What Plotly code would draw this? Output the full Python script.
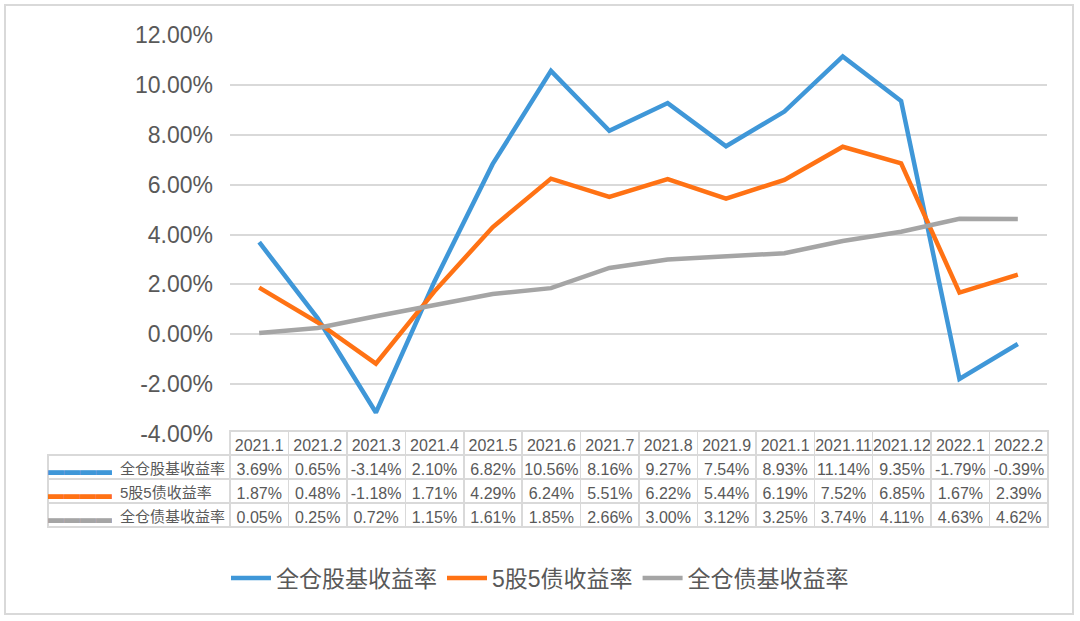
import plotly.graph_objects as go

months = ["2021.1", "2021.2", "2021.3", "2021.4", "2021.5", "2021.6", "2021.7",
          "2021.8", "2021.9", "2021.1", "2021.11", "2021.12", "2022.1", "2022.2"]
series_names = ["全仓股基收益率", "5股5债收益率", "全仓债基收益率"]
stock_fund = [3.69, 0.65, -3.14, 2.10, 6.82, 10.56, 8.16, 9.27, 7.54, 8.93, 11.14, 9.35, -1.79, -0.39]
mixed_55 = [1.87, 0.48, -1.18, 1.71, 4.29, 6.24, 5.51, 6.22, 5.44, 6.19, 7.52, 6.85, 1.67, 2.39]
bond_fund = [0.05, 0.25, 0.72, 1.15, 1.61, 1.85, 2.66, 3.00, 3.12, 3.25, 3.74, 4.11, 4.63, 4.62]
y_ticks = [-4, -2, 0, 2, 4, 6, 8, 10, 12]

colors = ["#3f97d8", "#ff7214", "#a5a5a5"]
all_series = [stock_fund, mixed_55, bond_fund]

W, H = 1080, 621
FONT = "Liberation Sans, Helvetica, Arial, Noto Sans CJK SC, sans-serif"
TXT = "#595959"
GRID = "#d9d9d9"
CLEAR = "rgba(0,0,0,0)"

x_idx = list(range(len(months)))

fig = go.Figure()
for name, vals, col in zip(series_names, all_series, colors):
    fig.add_trace(go.Scatter(
        x=x_idx, y=[v / 100 for v in vals], name=name, mode="lines",
        line=dict(color=col, width=4.5), xaxis="x", yaxis="y",
    ))

# main data table (bordered grid)
n = len(months)
cols = [["", "", ""]]
for i in range(n):
    cols.append([f"{s[i]:.2f}%" for s in all_series])

tab_top = 1 - 431 / H
tab_bot = 1 - 540 / H
fig.add_trace(go.Table(
    domain=dict(x=[48 / W, 1048 / W], y=[tab_bot, tab_top]),
    columnwidth=[182] + [58.4] * n,
    header=dict(values=[""] + months, height=24,
                fill_color=[CLEAR] + ["white"] * n,
                line=dict(color=[CLEAR] + [GRID] * n, width=1.5),
                font=dict(family=FONT, size=16, color=TXT), align="center"),
    cells=dict(values=cols, height=24, fill_color="white",
               line=dict(color=GRID, width=1.5),
               font=dict(family=FONT, size=16, color=TXT),
               align="center"),
))

# legend keys + series names inside the table's first column
fig.add_trace(go.Table(
    domain=dict(x=[48 / W, 230 / W], y=[tab_bot, tab_top]),
    columnwidth=[64, 118],
    header=dict(values=["", ""], height=24, fill_color=CLEAR,
                line=dict(color=CLEAR, width=0)),
    cells=dict(values=[["▬▬▬▬"] * 3, series_names], height=24, fill_color=CLEAR,
               line=dict(color=CLEAR, width=0),
               font=dict(family=FONT, size=[16, 15], color=[colors, [TXT] * 3]),
               align=["center", "left"]),
))

fig.update_layout(
    template="none",
    width=W, height=H,
    margin=dict(l=0, r=0, t=0, b=0, autoexpand=False),
    paper_bgcolor="white", plot_bgcolor="white",
    font=dict(family=FONT, color=TXT),
    showlegend=True,
    legend=dict(orientation="h", x=0.5, xanchor="center", y=1 - 578 / H, yanchor="middle",
                font=dict(size=23, color=TXT), itemwidth=40, bgcolor=CLEAR),
    xaxis=dict(domain=[230 / W, 1047 / W], range=[-0.5, n - 0.5], automargin=False,
               showticklabels=False, showgrid=False, zeroline=False, showline=False),
    yaxis=dict(domain=[1 - 434 / H, 1 - 35 / H], range=[-0.04, 0.12], automargin=False,
               tickvals=[t / 100 for t in y_ticks],
               ticktext=[f"{t:.2f}%" for t in y_ticks],
               showgrid=True, gridcolor=GRID, gridwidth=1.5, zeroline=False,
               showline=False, ticks="", ticklabelstandoff=16,
               tickfont=dict(size=23, color=TXT)),
    shapes=[dict(type="rect", xref="paper", yref="paper", x0=5 / W, x1=1073 / W,
                 y0=1 - 614 / H, y1=1 - 5 / H, line=dict(color=GRID, width=2))],
)

fig.write_html("out.html")
